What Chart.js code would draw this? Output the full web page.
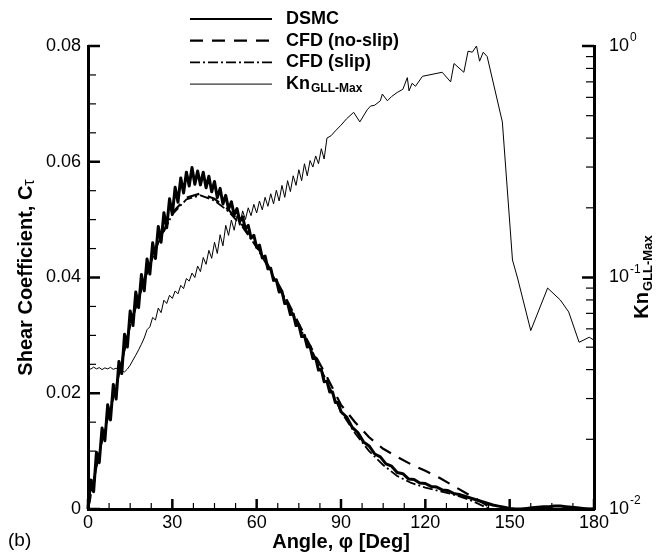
<!DOCTYPE html>
<html>
<head>
<meta charset="utf-8">
<script src="https://cdn.jsdelivr.net/npm/chart.js@4.4.9/dist/chart.umd.min.js"></script>
<style>
html, body { margin: 0; padding: 0; background: #fff; }
#wrap { width: 667px; height: 555px; }
</style>
</head>
<body>
<div id="wrap"><canvas id="chart" width="667" height="555"></canvas></div>
<script>
// DSMC shear coefficient (noisy)
const dsmcAngle = [
    0, 1, 2, 3, 4, 5, 6, 7, 8, 9,
    10, 11, 12, 13, 14, 15, 16, 17, 18, 19,
    20, 21, 22, 23, 24, 25, 26, 27, 28, 29,
    30, 31, 32, 33, 34, 35, 36, 37, 38, 39,
    40, 41, 42, 43, 44, 45, 46, 47, 48, 49,
    50, 51, 52, 53, 54, 55, 56, 57, 58, 59,
    60, 61, 62, 63, 64, 65, 66, 67, 68, 69,
    70, 71, 72, 73, 74, 75, 76, 77, 78, 79,
    80, 81, 82, 83, 84, 85, 86, 87, 88, 89,
    90, 92, 94, 96, 98, 100, 102, 104, 106, 108, 110,
    112, 114, 116, 118, 120, 122, 124, 126, 128, 130,
    132, 134, 136, 138, 140, 142, 144, 146, 148, 150,
    152, 154, 156, 158, 160, 162, 164, 166, 168, 170,
    172, 174, 176, 178, 180
];
const dsmcCt = [
    0.0000, 0.0050, 0.0030, 0.0098, 0.0080, 0.0140, 0.0118, 0.0180, 0.0154, 0.0215,
    0.0190, 0.0255, 0.0234, 0.0302, 0.0280, 0.0342, 0.0317, 0.0375, 0.0348, 0.0405,
    0.0377, 0.0432, 0.0406, 0.0460, 0.0433, 0.0488, 0.0461, 0.0512, 0.0486, 0.0536,
    0.0509, 0.0556, 0.0530, 0.0572, 0.0546, 0.0582, 0.0558, 0.0590, 0.0561, 0.0584,
    0.0560, 0.0582, 0.0555, 0.0575, 0.0548, 0.0566, 0.0538, 0.0554, 0.0527, 0.0542,
    0.0518, 0.0531, 0.0508, 0.0519, 0.0497, 0.0505, 0.0484, 0.0490, 0.0468, 0.0473,
    0.0452, 0.0456, 0.0434, 0.0437, 0.0415, 0.0416, 0.0395, 0.0396, 0.0375, 0.0376,
    0.0355, 0.0356, 0.0336, 0.0337, 0.0317, 0.0318, 0.0298, 0.0300, 0.0280, 0.0281,
    0.0260, 0.0261, 0.0240, 0.0241, 0.0220, 0.0221, 0.0202, 0.0202, 0.0184, 0.0184,
    0.0168, 0.0159, 0.0141, 0.0132, 0.0116, 0.0109, 0.0095, 0.0090, 0.0078, 0.0074, 0.0063,
    0.0061, 0.0052, 0.0051, 0.0045, 0.0044, 0.0039, 0.0038, 0.0033, 0.0032, 0.0027,
    0.0025, 0.0022, 0.0019, 0.0016, 0.0013, 0.0010, 0.0007, 0.0005, 0.0003, 0.0001,
    0.0000, 0.0000, 0.0001, 0.0002, 0.0003, 0.0004, 0.0004, 0.0005, 0.0005, 0.0004,
    0.0003, 0.0002, 0.0001, 0.0000, 0.0000
];

// CFD no-slip
const noSlipAngle = [0, 5, 10, 15, 20, 25, 30, 35, 40, 45, 50, 55, 60, 65, 70, 75, 80, 85, 90,
    95, 100, 105, 110, 115, 120, 125, 130, 135, 140, 143, 144.5];
const noSlipCt = [0, 0.0119, 0.0212, 0.0318, 0.0395, 0.0462, 0.0512, 0.0538, 0.0545, 0.0536, 0.0517,
    0.0490, 0.0455, 0.0413, 0.0368, 0.0320, 0.0273, 0.0228, 0.0180,
    0.0150, 0.0124, 0.0104, 0.0090, 0.0077, 0.0066, 0.0054, 0.0040, 0.0026, 0.0012, 0.0003, 0];

// CFD slip
const slipAngle = [0, 5, 10, 15, 20, 25, 30, 35, 40, 45, 50, 55, 60, 65, 70, 75, 80, 85, 90,
    95, 100, 105, 110, 115, 120, 125, 130, 135, 138, 141, 143];
const slipCt = [0, 0.0119, 0.0212, 0.0318, 0.0395, 0.0460, 0.0509, 0.0535, 0.0542, 0.0533, 0.0514,
    0.0487, 0.0452, 0.0410, 0.0365, 0.0317, 0.0270, 0.0220, 0.0168,
    0.0131, 0.0100, 0.0076, 0.0057, 0.0045, 0.0037, 0.0031, 0.0025, 0.0017, 0.0011, 0.0004, 0];

// Kn GLL-Max (right, log axis)
const knAngle = [
    0, 1, 2, 3, 4, 5, 6, 7, 8, 9,
    10, 11, 12, 13, 14, 15, 16, 17, 18, 19,
    20, 21, 22, 23, 24, 25, 26, 27, 28, 29,
    30, 31, 32, 33, 34, 35, 36, 37, 38, 39,
    40, 41, 42, 43, 44, 45, 46, 47, 48, 49,
    50, 51, 52, 53, 54, 55, 56, 57, 58, 59,
    60, 61, 62, 63, 64, 65, 66, 67, 68, 69,
    70, 71, 72, 73, 74, 75, 76, 77, 78, 79,
    80, 81, 82, 83, 84, 85,
    86.5, 88, 90, 92, 94.5, 96.7, 99.3, 100.5, 102, 104, 104.7, 106.5, 108, 110, 112,
    113.6, 114.2, 115.3, 116.5, 119, 126, 129, 130.2, 133.7, 135.2, 136.7, 138.2, 139.3,
    140.6, 142, 147.4, 151, 152.8, 157.5, 163.5, 168, 171, 174.7, 178.3, 180
];
const knValue = [
    0.0408, 0.0402, 0.0410, 0.0403, 0.0408, 0.0400, 0.0407, 0.0403, 0.0409, 0.0401,
    0.0406, 0.0398, 0.0394, 0.0391, 0.0402, 0.0418, 0.0440, 0.0462, 0.0487, 0.0515,
    0.0548, 0.0595, 0.0612, 0.0672, 0.0655, 0.0738, 0.0705, 0.0798, 0.0772, 0.0838,
    0.0812, 0.0875, 0.0850, 0.0925, 0.0895, 0.0990, 0.0965, 0.1045, 0.1000, 0.1120,
    0.1060, 0.1220, 0.1140, 0.1310, 0.1210, 0.1420, 0.1270, 0.1530, 0.1370, 0.1680,
    0.1520, 0.1770, 0.1600, 0.1850, 0.1680, 0.1940, 0.1780, 0.2000, 0.1850, 0.2070,
    0.1900, 0.2140, 0.1960, 0.2220, 0.2030, 0.2300, 0.2080, 0.2380, 0.2140, 0.2500,
    0.2220, 0.2620, 0.2350, 0.2750, 0.2500, 0.2920, 0.2620, 0.3100, 0.2750, 0.3200,
    0.3000, 0.3350, 0.3100, 0.3600, 0.3250, 0.4000,
    0.410, 0.430, 0.455, 0.485, 0.517, 0.470, 0.530, 0.550, 0.555, 0.580, 0.620, 0.580, 0.605, 0.630, 0.650,
    0.730, 0.640, 0.690, 0.670, 0.740, 0.770, 0.700, 0.840, 0.770, 0.950, 0.940, 1.000, 0.860,
    0.940, 0.900, 0.470, 0.119, 0.0995, 0.059, 0.090, 0.080, 0.071, 0.0525, 0.0552, 0.0536
];

const seriesNames = ['DSMC', 'CFD (no-slip)', 'CFD (slip)', 'Kn'];
const knSubscript = 'GLL-Max';
const knTickExponents = ['-2', '-1', '0'];
const panelLabel = '(b)';

const FONT = "'Liberation Sans', Arial, Helvetica, sans-serif";
const styles = [
    { width: 3, dash: [] },
    { width: 2.2, dash: [13, 9] },
    { width: 1.8, dash: [10, 3, 2, 3] },
    { width: 1, dash: [] }
];

const toPoints = (xs, ys) => xs.map((a, i) => ({ x: a, y: ys[i] }));

const makeSet = (label, points, style, axis) => ({
    label,
    data: points,
    yAxisID: axis,
    showLine: true,
    pointRadius: 0,
    borderColor: '#000',
    backgroundColor: '#000',
    borderWidth: style.width,
    borderDash: style.dash,
    borderJoinStyle: 'round',
    tension: 0,
    clip: false
});

// inward tick marks, legend, side titles
const decorPlugin = {
    id: 'decor',
    afterDraw(chart) {
        const ctx = chart.ctx;
        const { x, y, y2 } = chart.scales;
        const area = chart.chartArea;
        const line = (x1, y1, x2, y2_, w) => {
            ctx.lineWidth = w;
            ctx.beginPath();
            ctx.moveTo(x1, y1);
            ctx.lineTo(x2, y2_);
            ctx.stroke();
        };
        ctx.save();
        ctx.strokeStyle = '#000';
        ctx.fillStyle = '#000';
        ctx.setLineDash([]);

        for (let a = 0; a <= 180; a += 7.5) {
            const px = x.getPixelForValue(a);
            const major = a % 30 === 0;
            line(px, area.bottom, px, area.bottom - (major ? 10 : 6), major ? 2.5 : 1.2);
        }
        for (let k = 0; k <= 16; k++) {
            const py = y.getPixelForValue(k * 0.005);
            const major = k % 4 === 0;
            line(area.left, py, area.left + (major ? 12 : 8), py, major ? 2.5 : 1.2);
        }
        [0.01, 0.1].forEach(dec => {
            for (let m = 1; m <= 9; m++) {
                const py = y2.getPixelForValue(m * dec);
                line(area.right, py, area.right - (m === 1 ? 12 : 8), py, m === 1 ? 2.5 : 1.2);
            }
        });
        line(area.right, y2.getPixelForValue(1), area.right - 12, y2.getPixelForValue(1), 2.5);

        // right axis labels 10^n
        ctx.textBaseline = 'middle';
        ctx.textAlign = 'left';
        [0.01, 0.1, 1].forEach((v, i) => {
            const py = y2.getPixelForValue(v);
            ctx.font = `18px ${FONT}`;
            ctx.fillText('10', area.right + 15, py);
            const w = ctx.measureText('10').width;
            ctx.font = `12px ${FONT}`;
            ctx.fillText(knTickExponents[i], area.right + 15 + w + 1, py - 8);
        });

        // left title
        ctx.save();
        ctx.translate(26, (area.top + area.bottom) / 2);
        ctx.rotate(-Math.PI / 2);
        ctx.font = `bold 20px ${FONT}`;
        const main = 'Shear Coefficient, C';
        const wMain = ctx.measureText(main).width;
        ctx.font = `16px ${FONT}`;
        const wTau = ctx.measureText('τ').width;
        const start = -(wMain + wTau) / 2;
        ctx.font = `bold 20px ${FONT}`;
        ctx.fillText(main, start, 0);
        ctx.font = `16px ${FONT}`;
        ctx.fillText('τ', start + wMain, 4);
        ctx.restore();

        // right title
        ctx.save();
        ctx.translate(642, (area.top + area.bottom) / 2);
        ctx.rotate(-Math.PI / 2);
        ctx.font = `bold 20px ${FONT}`;
        const wKn = ctx.measureText('Kn').width;
        ctx.font = `bold 13px ${FONT}`;
        const wSub = ctx.measureText(knSubscript).width;
        const s2 = -(wKn + wSub) / 2;
        ctx.font = `bold 20px ${FONT}`;
        ctx.fillText('Kn', s2, 0);
        ctx.font = `bold 13px ${FONT}`;
        ctx.fillText(knSubscript, s2 + wKn + 1, 6);
        ctx.restore();

        // legend
        seriesNames.forEach((name, i) => {
            const ly = 19 + i * 21.7;
            ctx.lineWidth = Math.min(styles[i].width, 2.2);
            ctx.setLineDash(styles[i].dash);
            ctx.beginPath();
            ctx.moveTo(190, ly);
            ctx.lineTo(272, ly);
            ctx.stroke();
            ctx.setLineDash([]);
            ctx.font = `bold 18px ${FONT}`;
            ctx.fillText(name, 286, ly);
            if (name === 'Kn') {
                const w = ctx.measureText(name).width;
                ctx.font = `bold 12px ${FONT}`;
                ctx.fillText(knSubscript, 286 + w + 1, ly + 5);
            }
        });

        ctx.font = `19px ${FONT}`;
        ctx.fillText(panelLabel, 8, 541);
        ctx.restore();
    }
};

const ctx = document.getElementById('chart').getContext('2d');

new Chart(ctx, {
    type: 'scatter',
    data: {
        datasets: [
            makeSet('Kn', toPoints(knAngle, knValue), styles[3], 'y2'),
            makeSet('CFD (slip)', toPoints(slipAngle, slipCt), styles[2], 'y'),
            makeSet('CFD (no-slip)', toPoints(noSlipAngle, noSlipCt), styles[1], 'y'),
            makeSet('DSMC', toPoints(dsmcAngle, dsmcCt), styles[0], 'y')
        ]
    },
    options: {
        responsive: false,
        animation: false,
        devicePixelRatio: 1,
        layout: { padding: { top: 46, left: 0, right: 0, bottom: 0 } },
        plugins: {
            legend: { display: false },
            tooltip: { enabled: false }
        },
        scales: {
            x: {
                type: 'linear',
                min: 0,
                max: 180,
                grid: { display: false, drawTicks: false },
                border: { display: true, width: 3, color: '#000' },
                ticks: {
                    stepSize: 30,
                    color: '#000',
                    padding: 3,
                    maxRotation: 0,
                    font: { family: FONT, size: 18 }
                },
                title: {
                    display: true,
                    text: 'Angle, φ [Deg]',
                    color: '#000',
                    padding: { top: 0, bottom: 1 },
                    font: { family: FONT, size: 20, weight: 'bold' }
                },
                afterFit: (scale) => { scale.height = 46; }
            },
            y: {
                type: 'linear',
                position: 'left',
                min: 0,
                max: 0.08,
                grid: { display: false, drawTicks: false },
                border: { display: true, width: 3, color: '#000' },
                ticks: {
                    stepSize: 0.02,
                    color: '#000',
                    padding: 7,
                    font: { family: FONT, size: 18 },
                    callback: (v) => v === 0 ? '0' : v.toFixed(2)
                },
                afterFit: (scale) => { scale.width = 88; }
            },
            y2: {
                type: 'logarithmic',
                position: 'right',
                min: 0.01,
                max: 1,
                grid: { display: false, drawTicks: false },
                border: { display: true, width: 3, color: '#000' },
                ticks: { display: false },
                afterFit: (scale) => { scale.width = 73; }
            }
        }
    },
    plugins: [decorPlugin]
});
</script>
</body>
</html>
